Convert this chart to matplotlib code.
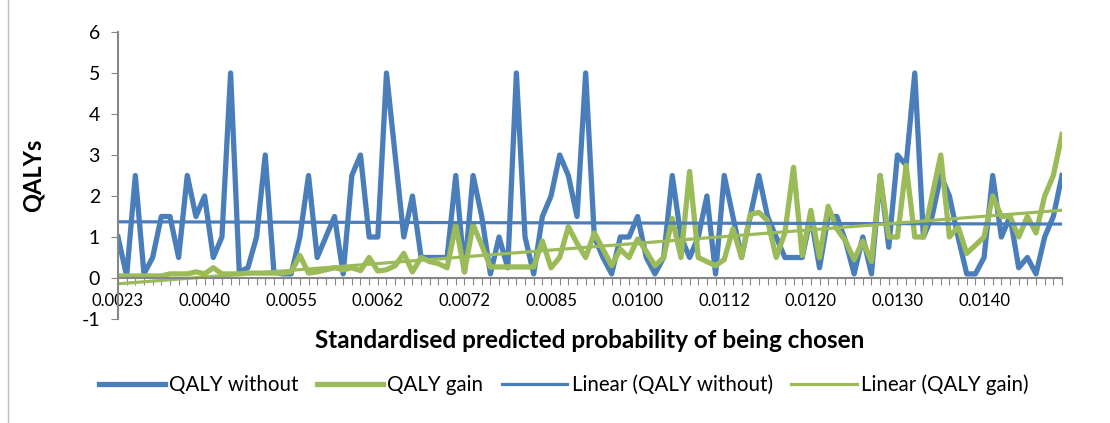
import matplotlib.pyplot as plt
import numpy as np

# QALY values, one per category (110 categories)
qaly_without = [
    1.0, 0.05, 2.5, 0.1, 0.5, 1.5, 1.5, 0.5, 2.5, 1.5,
    2.0, 0.5, 1.0, 5.0, 0.15, 0.25, 1.0, 3.0, 0.15, 0.1,
    0.1, 1.0, 2.5, 0.5, 1.0, 1.5, 0.1, 2.5, 3.0, 1.0,
    1.0, 5.0, 3.0, 1.0, 2.0, 0.5, 0.5, 0.5, 0.5, 2.5,
    0.15, 2.5, 1.5, 0.1, 1.0, 0.25, 5.0, 1.0, 0.1, 1.5,
    2.0, 3.0, 2.5, 1.5, 5.0, 1.0, 0.5, 0.1, 1.0, 1.0,
    1.5, 0.5, 0.1, 0.5, 2.5, 1.0, 0.5, 1.0, 2.0, 0.1,
    2.5, 1.5, 0.5, 1.5, 2.5, 1.5, 1.0, 0.5, 0.5, 0.5,
    1.5, 0.25, 1.5, 1.5, 0.9, 0.1, 1.0, 0.1, 2.5, 0.75,
    3.0, 2.75, 5.0, 1.0, 1.5, 2.5, 2.0, 1.0, 0.1, 0.1,
    0.5, 2.5, 1.0, 1.5, 0.25, 0.5, 0.1, 1.0, 1.5, 2.5,
]
qaly_gain = [
    0.05, 0.05, 0.05, 0.05, 0.05, 0.05, 0.1, 0.1, 0.1, 0.15,
    0.1, 0.25, 0.1, 0.1, 0.1, 0.12, 0.12, 0.12, 0.12, 0.12,
    0.15, 0.55, 0.12, 0.15, 0.2, 0.25, 0.2, 0.25, 0.18, 0.5,
    0.17, 0.2, 0.3, 0.6, 0.15, 0.5, 0.4, 0.35, 0.25, 1.3,
    0.15, 1.3, 0.8, 0.27, 0.27, 0.27, 0.27, 0.27, 0.27, 0.9,
    0.25, 0.5, 1.25, 0.85, 0.5, 1.1, 0.7, 0.3, 0.7, 0.5,
    0.95, 0.65, 0.3, 0.5, 1.45, 0.5, 2.6, 0.5, 0.4, 0.3,
    0.45, 1.2, 0.5, 1.55, 1.6, 1.4, 0.5, 1.1, 2.7, 0.55,
    1.65, 0.5, 1.75, 1.2, 0.9, 0.45, 0.9, 0.4, 2.5, 1.0,
    1.0, 2.75, 1.0, 1.0, 2.0, 3.0, 1.0, 1.25, 0.6, 0.8,
    1.0, 2.0, 1.5, 1.5, 1.0, 1.5, 1.1, 2.0, 2.5, 3.5,
]
# every 10th category is labelled
tick_labels = ["0.0023", "0.0040", "0.0055", "0.0062", "0.0072", "0.0085",
               "0.0100", "0.0112", "0.0120", "0.0130", "0.0140"]

blue = "#4A7EBB"
green = "#9BBB59"
axis_grey = "#868686"

plt.rcParams['font.family'] = ['Lato', 'DejaVu Sans']
plt.rcParams['axes.unicode_minus'] = False

fig = plt.figure(figsize=(11.1, 4.23), dpi=100)
ax = fig.add_axes([118 / 1110, 1 - 319 / 423, (1062 - 118) / 1110, (319 - 32) / 423])

x = np.arange(len(qaly_without))

ax.plot(x, qaly_without, color=blue, lw=3.8, label="QALY without", solid_joinstyle='round')
ax.plot(x, qaly_gain, color=green, lw=3.8, label="QALY gain", solid_joinstyle='round')

# Excel-style linear trendlines
for series, col, name in [(qaly_without, blue, "Linear (QALY without)"),
                          (qaly_gain, green, "Linear (QALY gain)")]:
    slope, icpt = np.polyfit(x, series, 1)
    ax.plot(x, slope * x + icpt, color=col, lw=2.3, label=name)

ax.set_xlim(0, len(x) - 1)
ax.set_ylim(-1, 6)
ax.set_yticks(range(-1, 7))
ax.tick_params(axis='y', labelsize=14, length=5, color=axis_grey, pad=8)

labels = [""] * len(x)
for k, lab in enumerate(tick_labels):
    labels[k * 10] = lab
ax.set_xticks(x)
ax.set_xticklabels(labels)
ax.tick_params(axis='x', labelsize=12, length=5, color=axis_grey, pad=6)

ax.spines['bottom'].set_position(('data', 0))
ax.spines['bottom'].set_color(axis_grey)
ax.spines['bottom'].set_linewidth(1.5)
ax.spines['left'].set_color(axis_grey)
ax.spines['left'].set_linewidth(1.5)
ax.spines['top'].set_visible(False)
ax.spines['right'].set_visible(False)

fig.text(33 / 1110, 1 - 175 / 423, "QALYs", rotation=90,
         ha='center', va='center', fontsize=17, fontweight='bold')
fig.text(590 / 1110, 1 - 340 / 423, "Standardised predicted probability of being chosen",
         ha='center', va='center', fontsize=17.5, fontweight='bold')

fig.legend(loc='center', bbox_to_anchor=(0.508, 1 - 385 / 423), ncol=4, frameon=False,
           fontsize=14.8, handlelength=3.2, columnspacing=0.9, handletextpad=0.2)

# chart area border on the left
fig.add_artist(plt.Line2D([8 / 1110, 8 / 1110], [0, 1], color="#BFBFBF", lw=1))

fig.savefig("out.png", dpi=100)
